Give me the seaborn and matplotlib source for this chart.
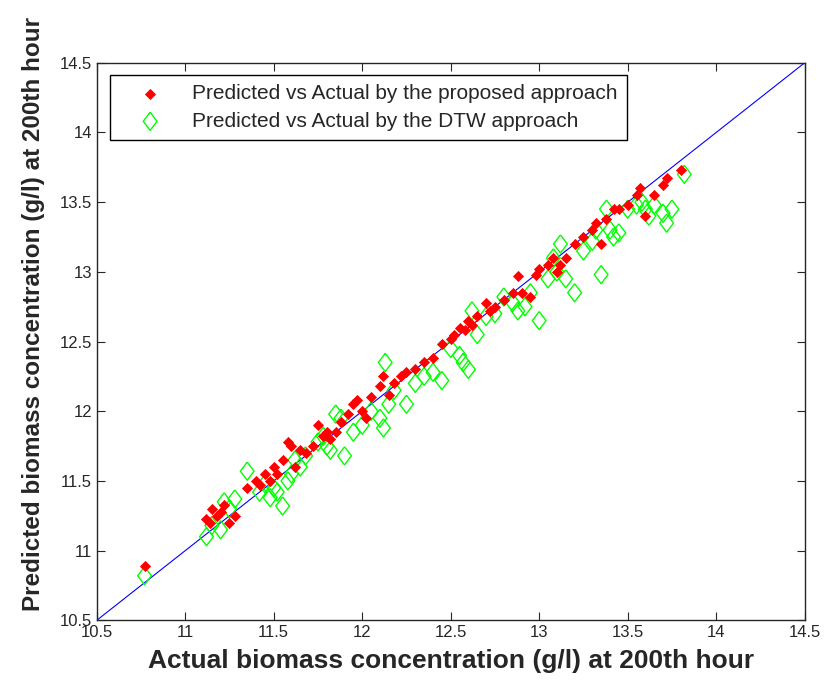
import matplotlib
matplotlib.use("Agg")
import matplotlib.pyplot as plt
import numpy as np
import pandas as pd
import seaborn as sns

# Predicted vs actual, proposed approach
prop_actual = [10.77, 11.12, 11.14, 11.15, 11.18, 11.20, 11.22, 11.25, 11.28,
               11.35, 11.40, 11.42, 11.45, 11.48, 11.50, 11.52, 11.55, 11.58, 11.60,
               11.62, 11.65, 11.68, 11.72, 11.75, 11.78, 11.80, 11.82, 11.85, 11.88,
               11.92, 11.95, 11.97, 12.00, 12.02, 12.05, 12.10, 12.12, 12.15, 12.18,
               12.22, 12.25, 12.30, 12.35, 12.40, 12.45, 12.50, 12.52, 12.55, 12.58,
               12.60, 12.62, 12.65, 12.70, 12.72, 12.75, 12.80, 12.85, 12.88, 12.90,
               12.95, 12.98, 13.00, 13.05, 13.08, 13.10, 13.12, 13.15, 13.20, 13.25,
               13.30, 13.32, 13.35, 13.38, 13.42, 13.45, 13.50, 13.55, 13.57, 13.60,
               13.65, 13.70, 13.72, 13.80]
prop_pred = [10.89, 11.23, 11.20, 11.30, 11.25, 11.28, 11.33, 11.20, 11.25,
             11.45, 11.50, 11.47, 11.55, 11.50, 11.60, 11.55, 11.65, 11.78, 11.75,
             11.60, 11.72, 11.70, 11.75, 11.90, 11.82, 11.85, 11.80, 11.85, 11.92,
             11.98, 12.05, 12.08, 12.00, 11.95, 12.10, 12.18, 12.25, 12.12, 12.20,
             12.25, 12.28, 12.30, 12.35, 12.38, 12.48, 12.52, 12.55, 12.60, 12.58,
             12.65, 12.62, 12.68, 12.78, 12.72, 12.75, 12.80, 12.85, 12.97, 12.85,
             12.82, 12.98, 13.02, 13.05, 13.10, 13.00, 13.05, 13.10, 13.20, 13.25,
             13.30, 13.35, 13.20, 13.38, 13.45, 13.45, 13.48, 13.55, 13.60, 13.40,
             13.55, 13.62, 13.67, 13.73]

# Predicted vs actual, DTW approach
dtw_actual = [10.77, 11.12, 11.15, 11.20, 11.22, 11.25, 11.28, 11.35, 11.42,
              11.45, 11.48, 11.50, 11.52, 11.55, 11.58, 11.60, 11.62, 11.65, 11.68,
              11.75, 11.78, 11.80, 11.82, 11.85, 11.88, 11.90, 11.95, 12.00, 12.05,
              12.10, 12.12, 12.13, 12.15, 12.18, 12.25, 12.30, 12.35, 12.40, 12.45,
              12.50, 12.55, 12.57, 12.60, 12.62, 12.65, 12.70, 12.75, 12.80, 12.85,
              12.88, 12.92, 12.95, 13.00, 13.05, 13.08, 13.10, 13.12, 13.15, 13.20,
              13.25, 13.30, 13.32, 13.35, 13.38, 13.40, 13.42, 13.45, 13.50, 13.55,
              13.58, 13.60, 13.62, 13.65, 13.70, 13.72, 13.75, 13.82]
dtw_pred = [10.82, 11.10, 11.18, 11.15, 11.35, 11.30, 11.37, 11.57, 11.42,
            11.48, 11.38, 11.45, 11.42, 11.32, 11.50, 11.55, 11.65, 11.60, 11.68,
            11.78, 11.82, 11.75, 11.72, 11.98, 11.95, 11.68, 11.85, 11.90, 12.00,
            11.95, 11.88, 12.35, 12.05, 12.15, 12.05, 12.20, 12.25, 12.28, 12.22,
            12.45, 12.40, 12.35, 12.30, 12.72, 12.55, 12.68, 12.70, 12.82, 12.78,
            12.72, 12.75, 12.85, 12.65, 12.95, 13.10, 13.00, 13.20, 12.95, 12.85,
            13.15, 13.22, 13.30, 12.98, 13.45, 13.30, 13.25, 13.28, 13.45, 13.48,
            13.50, 13.45, 13.40, 13.48, 13.42, 13.35, 13.45, 13.70]

ideal = [10.5, 14.5]
ticks = [10.5, 11, 11.5, 12, 12.5, 13, 13.5, 14, 14.5]
tick_labels = ["10.5", "11", "11.5", "12", "12.5", "13", "13.5", "14", "14.5"]

sns.set_style("ticks")
plt.rcParams['font.family'] = ['Liberation Sans', 'DejaVu Sans']

# tall diamond, like the MATLAB one
tall_diamond = [(0, 1), (0.76, 0), (0, -1), (-0.76, 0), (0, 1)]

fig = plt.figure(figsize=(8.27, 6.9), dpi=100)
ax = fig.add_axes([0.117, 0.101, 0.856, 0.808])

prop_df = pd.DataFrame({"actual": prop_actual, "pred": prop_pred})
dtw_df = pd.DataFrame({"actual": dtw_actual, "pred": dtw_pred})

sns.lineplot(x=ideal, y=ideal, ax=ax, color="blue", linewidth=0.8, zorder=1)
sns.scatterplot(data=dtw_df, x="actual", y="pred", ax=ax, marker=tall_diamond,
                s=170, facecolor="none", edgecolor="#00ff00", linewidth=1.0,
                label="Predicted vs Actual by the DTW approach", zorder=2)
sns.scatterplot(data=prop_df, x="actual", y="pred", ax=ax, marker="D",
                s=26, color="red", edgecolor="red", linewidth=0.6,
                label="Predicted vs Actual by the proposed approach", zorder=3)

ax.set_xlim(10.5, 14.5)
ax.set_ylim(10.5, 14.5)
ax.set_xticks(ticks)
ax.set_xticklabels(tick_labels)
ax.set_yticks(ticks)
ax.set_yticklabels(tick_labels)
ax.tick_params(direction="in", top=True, right=True, labelsize=12, length=6)
for sp in ax.spines.values():
    sp.set_visible(True)
    sp.set_linewidth(1.0)

ax.set_xlabel("Actual biomass concentration (g/l) at 200th hour",
              fontsize=19, fontweight="bold", labelpad=6)
ax.set_ylabel("Predicted biomass concentration (g/l) at 200th hour",
              fontsize=17.5, fontweight="bold")
ax.yaxis.set_label_coords(-0.073, 0.55)

handles, labels = ax.get_legend_handles_labels()
leg = ax.legend(handles[::-1], labels[::-1], loc="upper left",
                bbox_to_anchor=(0.018, 0.978), borderaxespad=0, fontsize=15,
                frameon=True, fancybox=False, edgecolor="black", framealpha=1,
                handlelength=3.0, handletextpad=0.5, borderpad=0.45,
                labelspacing=0.4)
leg.get_frame().set_linewidth(1.0)

fig.savefig("out.png", dpi=100)
